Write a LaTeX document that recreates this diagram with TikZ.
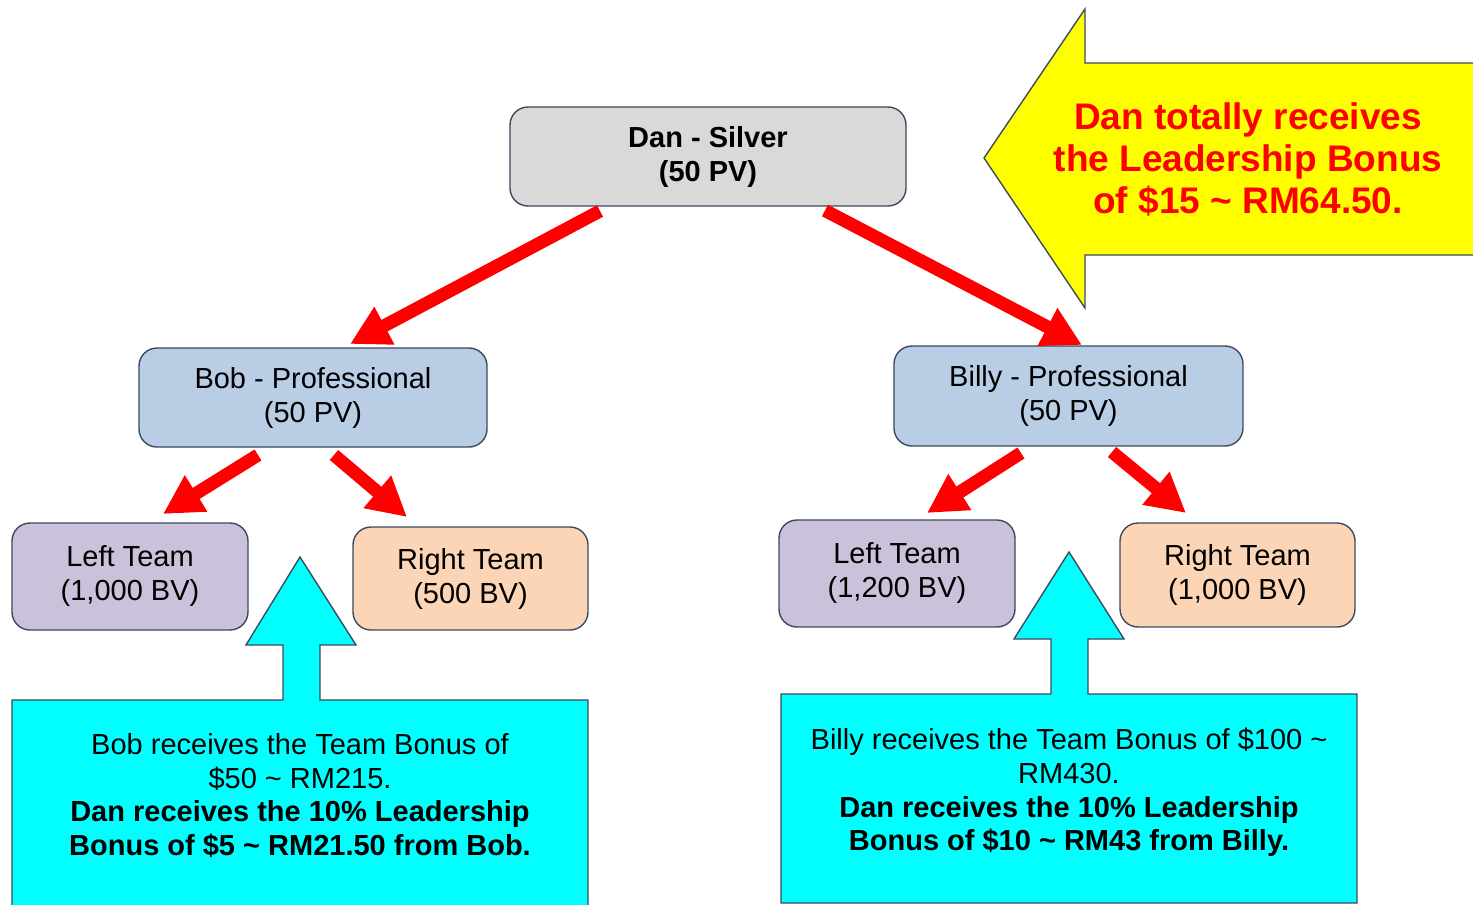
\documentclass[tikz,border=0pt]{standalone}
\usepackage{fontspec}
\setmainfont{Liberation Sans}
\usetikzlibrary{arrows.meta}
\definecolor{edge}{HTML}{3B4A5E}
\definecolor{silver}{HTML}{D9D9D9}
\definecolor{pro}{HTML}{B9CDE5}
\definecolor{lteam}{HTML}{CCC1DA}
\definecolor{rteam}{HTML}{FBD5B5}
\definecolor{aqua}{HTML}{00FFFF}
\definecolor{yel}{HTML}{FFFF00}
\definecolor{red}{HTML}{FF0000}
\tikzset{
  box/.style={draw=edge, line width=1.4pt, rounded corners=18pt, align=center,
    inner sep=0pt, font=\fontsize{29pt}{34pt}\selectfont},
  redarrow/.style={draw=red, line width=13pt, line cap=butt,
    -{Triangle[length=39pt,width=40pt,fill=red,color=red]}},
  callout/.style={draw=edge, line width=1.4pt, fill=aqua, line join=miter},
  calltext/.style={align=center, inner sep=0pt, font=\fontsize{29pt}{33.7pt}\selectfont},
}
\begin{document}
\begin{tikzpicture}[x=1pt,y=-1pt]
\useasboundingbox (0,0) rectangle (1473,905);
% boxes
\node[box, fill=silver, minimum width=396pt, minimum height=99pt, font=\fontsize{29pt}{34pt}\selectfont\bfseries] (dan) at (708,156.5) {Dan - Silver\\(50 PV)};
\node[box, fill=pro, minimum width=348pt, minimum height=99pt] (bob) at (313,397.5) {Bob - Professional\\(50 PV)};
\node[box, fill=pro, minimum width=349pt, minimum height=100pt] (billy) at (1068.5,396) {Billy - Professional\\(50 PV)};
\node[box, fill=lteam, minimum width=236pt, minimum height=107pt] (bobL) at (130,576.5) {Left Team\\(1,000 BV)};
\node[box, fill=rteam, minimum width=235pt, minimum height=103pt] (bobR) at (470.5,578.5) {Right Team\\(500 BV)};
\node[box, fill=lteam, minimum width=236pt, minimum height=107pt] (billyL) at (897,573.5) {Left Team\\(1,200 BV)};
\node[box, fill=rteam, minimum width=235pt, minimum height=104pt] (billyR) at (1237.5,575) {Right Team\\(1,000 BV)};
% red arrows
\coordinate (d1) at (600,211);   \coordinate (b1) at (350,344);
\coordinate (d2) at (825,210.5); \coordinate (b2) at (1082,345);
\coordinate (p1) at (258,455);   \coordinate (q1) at (163,514);
\coordinate (p2) at (334,455);   \coordinate (q2) at (407,517);
\coordinate (p3) at (1021,453);  \coordinate (q3) at (927,513);
\coordinate (p4) at (1112,452);  \coordinate (q4) at (1186,513);
\draw[redarrow] (d1) -- (b1);
\draw[redarrow] (d2) -- (b2);
\draw[redarrow] (p1) -- (q1);
\draw[redarrow] (p2) -- (q2);
\draw[redarrow] (p3) -- (q3);
\draw[redarrow] (p4) -- (q4);
% yellow arrow
\draw[draw=edge, line width=1.4pt, fill=yel, line join=miter]
  (984,158) -- (1085,9) -- (1085,63) -- (1490,63) -- (1490,255) -- (1085,255) -- (1085,308) -- cycle;
\node[align=center, inner sep=0pt, text=red, font=\fontsize{37pt}{42pt}\selectfont\bfseries] (total) at (1248,159)
  {Dan totally receives\\the Leadership Bonus\\of \$15 \textasciitilde{} RM64.50.};
% left callout
\draw[callout] (12,700) -- (283,700) -- (283,645) -- (246,645) -- (300,557) -- (356,645) -- (320,645) -- (320,700)
  -- (588,700) -- (588,920) -- (12,920) -- cycle;
\node[calltext] (callL) at (300,795.5)
  {Bob receives the Team Bonus of\\\$50 \textasciitilde{} RM215.\\\textbf{Dan receives the 10\% Leadership}\\\textbf{Bonus of \$5 \textasciitilde{} RM21.50 from Bob.}};
% right callout
\draw[callout] (781,694) -- (1051,694) -- (1051,639) -- (1014,639) -- (1069,552) -- (1124,639) -- (1088,639) -- (1088,694)
  -- (1357,694) -- (1357,903) -- (781,903) -- cycle;
\node[calltext] (callR) at (1069,792.5)
  {Billy receives the Team Bonus of \$100 \textasciitilde\\RM430.\\\textbf{Dan receives the 10\% Leadership}\\\textbf{Bonus of \$10 \textasciitilde{} RM43 from Billy.}};
\end{tikzpicture}
\end{document}
